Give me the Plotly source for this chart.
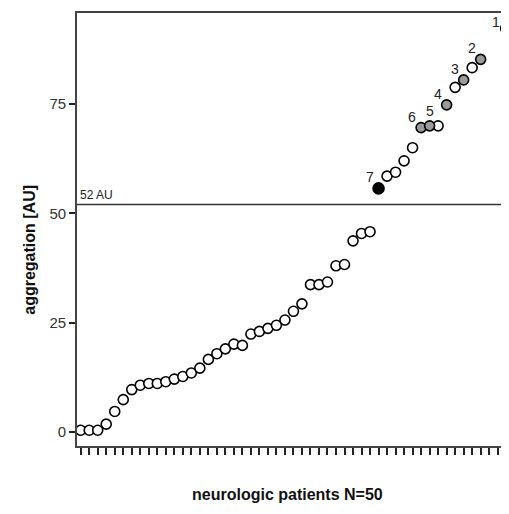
import plotly.graph_objects as go

# patient rank (position along x) and aggregation values [AU]
patient_rank = list(range(1, 49)) + [51]
aggregation = [0.4, 0.4, 0.4, 1.8, 4.7, 7.4, 9.7, 10.7, 11.1, 11.1,
               11.5, 12.1, 12.7, 13.5, 14.6, 16.6, 17.9, 19.0, 20.1, 19.8,
               22.4, 23.0, 23.7, 24.4, 25.6, 27.6, 29.3, 33.7, 33.7, 34.3,
               38.0, 38.3, 43.7, 45.4, 45.8, 55.7, 58.5, 59.4, 62.0, 65.0,
               69.6, 70.0, 70.0, 74.8, 78.8, 80.5, 83.3, 85.2, 92.3]
# marker group of each patient: open / grey / black
group = ["open"] * 35 + ["black", "open", "open", "open", "open",
                         "grey", "grey", "open", "grey", "open",
                         "grey", "open", "grey", "black"]
point_label = [""] * 35 + ["7", "", "", "", "", "6", "5", "", "4", "",
                           "3", "", "2", "1"]
y_ticks = [0, 25, 50, 75]
threshold = 52
threshold_label = "52 AU"

styles = {
    "open": dict(color="white", size=10),
    "grey": dict(color="#9a9a9a", size=10),
    "black": dict(color="black", size=11),
}
# label placement (pixel shifts relative to the marker)
label_shift = {"1": (-10, 6), "5": (0, 15)}
default_shift = (-9, 11)

fig = go.Figure()
for g in ["open", "grey", "black"]:
    xs = [x for x, k in zip(patient_rank, group) if k == g]
    ys = [y for y, k in zip(aggregation, group) if k == g]
    fig.add_trace(go.Scatter(
        x=xs, y=ys, mode="markers",
        marker=dict(symbol="circle", color=styles[g]["color"], size=styles[g]["size"],
                    line=dict(color="black", width=1.6)),
        showlegend=False, cliponaxis=True,
    ))

for x, y, t in zip(patient_rank, aggregation, point_label):
    if not t:
        continue
    dx, dy = label_shift.get(t, default_shift)
    fig.add_annotation(x=x, y=y, text=t, showarrow=False, xshift=dx, yshift=dy,
                       xanchor="center", yanchor="middle",
                       font=dict(family="Liberation Sans, Arial", size=14, color="#222"))

fig.add_shape(type="line", xref="x domain", yref="y", x0=0, x1=1,
              y0=threshold, y1=threshold, line=dict(color="#333", width=1.6))
fig.add_annotation(xref="x domain", yref="y", x=0.003, y=threshold, text=threshold_label,
                   showarrow=False, xanchor="left", yanchor="bottom", yshift=1,
                   font=dict(family="Liberation Sans, Arial", size=12, color="#222"))

fig.add_annotation(xref="paper", yref="paper", x=-0.109, y=0.453, text="<b>aggregation [AU]</b>",
                   textangle=-90, showarrow=False, xanchor="center", yanchor="middle",
                   font=dict(family="Liberation Sans, Arial", size=16, color="#111"))
fig.add_annotation(xref="paper", yref="paper", x=0.488, y=-0.113, text="<b>neurologic patients N=50</b>",
                   showarrow=False, xanchor="center", yanchor="middle",
                   font=dict(family="Liberation Sans, Arial", size=16, color="#111"))

fig.update_xaxes(range=[0.565, 51.33], tickmode="array", tickvals=list(range(1, 52)),
                 ticks="outside", ticklen=7, tickwidth=2, tickcolor="#222",
                 showticklabels=False, showgrid=False, zeroline=False,
                 showline=True, linecolor="#444", linewidth=1.6, mirror=True,
                 automargin=False)
fig.update_yaxes(range=[-3.2, 95.8], tickmode="array", tickvals=y_ticks,
                 ticks="outside", ticklen=6, tickwidth=2, tickcolor="#222",
                 tickfont=dict(family="Liberation Sans, Arial", size=15, color="#333"),
                 showgrid=False, zeroline=False,
                 showline=True, linecolor="#444", linewidth=1.6, mirror=False,
                 automargin=False)

fig.update_layout(width=501, height=506,
                  margin=dict(l=69, r=0, t=5, b=68, pad=0, autoexpand=False),
                  plot_bgcolor="white", paper_bgcolor="white")
fig.write_html("out.html")
